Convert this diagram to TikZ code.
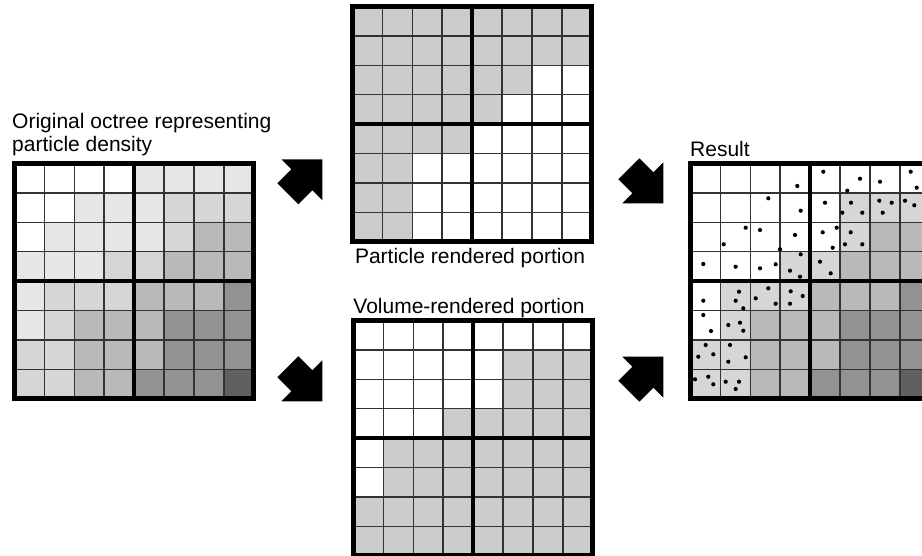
\documentclass[tikz,border=0pt]{standalone}
\usepackage{fontspec}
\setmainfont{Liberation Sans}
\definecolor{lv0}{HTML}{FFFFFF}
\definecolor{lv1}{HTML}{E6E6E6}
\definecolor{lv2}{HTML}{D6D6D6}
\definecolor{lv3}{HTML}{B9B9B9}
\definecolor{lv4}{HTML}{929292}
\definecolor{lv5}{HTML}{606060}
\definecolor{lv6}{HTML}{CCCCCC}
\newcommand\cellw{29.9}
\newcommand\cellh{29.4}
\tikzset{
  thinline/.style={line width=1.5pt, draw=black!80},
  quadline/.style={line width=4pt, draw=black},
  borderline/.style={line width=5pt, draw=black},
  lbl/.style={inner sep=0pt, font=\fontsize{21}{25}\selectfont},
  blockarrowfill/.style={fill=black},
  dot/.style={fill=black}
}
\newcommand\octgrid[3]{%
  \foreach \v [count=\i from 0] in {#3} {
    \pgfmathtruncatemacro\cc{mod(\i,8)}
    \pgfmathtruncatemacro\rr{div(\i,8)}
    \fill[lv\v] ({#1+\cc*\cellw},{#2+\rr*\cellh}) rectangle ++(\cellw,\cellh);
  }
  \foreach \k in {1,2,3,5,6,7} {
    \draw[thinline] ({#1+\k*\cellw},{#2}) -- ++(0,{8*\cellh});
    \draw[thinline] ({#1},{#2+\k*\cellh}) -- ++({8*\cellw},0);
  }
  \draw[quadline] ({#1+4*\cellw},{#2}) -- ++(0,{8*\cellh});
  \draw[quadline] ({#1},{#2+4*\cellh}) -- ++({8*\cellw},0);
  \draw[borderline] ({#1},{#2}) rectangle ++({8*\cellw},{8*\cellh});
}
\newcommand\blockarrow[3]{%
  \fill[blockarrowfill, shift={(#1,#2)}, yscale=#3]
    (0,0) -- (-41,0) -- (-31,10) -- (-45,24) -- (-24,45) -- (-10,31) -- (0,41) -- cycle;
}
\begin{document}
\begin{tikzpicture}[x=1pt,y=-1pt]
\clip (0,0) rectangle (922,556);
\fill[white] (0,0) rectangle (922,556);

% left: original octree
\octgrid{14.5}{163.5}{0,0,0,0,1,1,1,1,
0,0,1,1,1,2,2,2,
0,1,1,1,1,2,3,3,
1,1,1,2,2,3,3,3,
1,2,2,2,3,3,3,4,
1,2,3,3,3,4,4,4,
2,2,3,3,3,4,4,4,
2,2,3,3,4,4,4,5}

% middle top: particle rendered
\octgrid{352.5}{6.5}{6,6,6,6,6,6,6,6,
6,6,6,6,6,6,6,6,
6,6,6,6,6,6,0,0,
6,6,6,6,6,0,0,0,
6,6,6,6,0,0,0,0,
6,6,0,0,0,0,0,0,
6,6,0,0,0,0,0,0,
6,6,0,0,0,0,0,0}

% middle bottom: volume rendered
\octgrid{353.5}{320.5}{0,0,0,0,0,0,0,0,
0,0,0,0,0,6,6,6,
0,0,0,0,0,6,6,6,
0,0,0,6,6,6,6,6,
0,6,6,6,6,6,6,6,
0,6,6,6,6,6,6,6,
6,6,6,6,6,6,6,6,
6,6,6,6,6,6,6,6}

% right: result
\octgrid{690.5}{163.5}{0,0,0,0,0,0,0,0,
0,0,0,0,0,2,2,2,
0,0,0,0,0,2,3,3,
0,0,0,2,2,3,3,3,
0,2,2,2,3,3,3,4,
0,2,3,3,3,4,4,4,
2,2,3,3,3,4,4,4,
2,2,3,3,4,4,4,5}

% particles in result
\foreach \px/\py in {797.3/186, 823.3/171.7, 860/178.7, 847.3/190.7, 880/181.7, 910.7/171.7, 916.7/187.7,
768.3/198.3, 800.7/210.7, 825/202.7, 851/202.7, 842.3/212.7, 862.3/212.7, 879.3/200.7, 891.7/202.7, 882.7/212.7, 905/200.7, 914.3/205.3,
745.7/227.7, 723.7/244.3, 760/230, 795/235, 780/249.3, 822.7/232.3, 836.7/227.7, 832.7/247.7, 850.7/232.3, 845/244.3, 862.3/244.3,
703.3/264, 735.7/266.7, 760/268.3, 775.7/264.3, 800.7/254.3, 790/270.7, 800/276.7, 820/261.7, 830.7/273.3,
703.3/300.7, 739/291.7, 735.7/300.7, 743.3/308.3, 768.3/288.3, 755.7/298.3, 775.7/303.7, 790.7/291.3, 802.7/296, 790/303.7,
703.3/315, 711/331, 728.3/325, 740/322.7, 743.3/330.7,
705.7/345, 698.3/356.7, 713.3/354.3, 730/345, 728.3/361.7, 745.7/357.3,
695/379.3, 708.3/376.7, 713.3/384.3, 725.7/381.7, 739/381.7, 735.7/389}
  \fill[dot] (\px,\py) circle (2.1pt);

% arrows
\blockarrow{322.3}{159.3}{1}
\blockarrow{663.3}{203.3}{-1}
\blockarrow{322.3}{401.3}{-1}
\blockarrow{663.3}{356.7}{1}

% labels
\node[lbl, anchor=base west] (t1) at (12,128.5) {Original octree representing};
\node[lbl, anchor=base west] (t2) at (12,152) {particle density};
\node[lbl, anchor=base] (t3) at (470,263.5) {Particle rendered portion};
\node[lbl, anchor=base] (t4) at (469,313.5) {Volume-rendered portion};
\node[lbl, anchor=base west] (t5) at (690,157) {Result};
\end{tikzpicture}
\end{document}
